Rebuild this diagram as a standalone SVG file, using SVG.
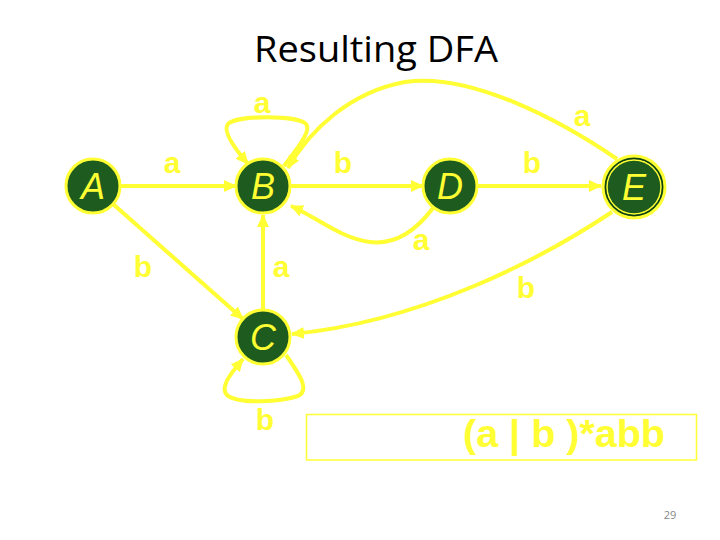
<svg xmlns="http://www.w3.org/2000/svg" width="720" height="540" viewBox="0 0 720 540">
<style>
.node{fill:#1E5B1E;stroke:#FFFF33;stroke-width:3}
.nl{font-family:"Liberation Sans",Arial,sans-serif;font-style:italic;font-size:36px;fill:#FFFF33;text-anchor:middle}
.edge{fill:none;stroke:#FFFF33;stroke-width:4;marker-end:url(#arr)}
.lbl{font-family:"Liberation Sans",Arial,sans-serif;font-weight:bold;font-size:30px;fill:#FFFF33;text-anchor:middle}
</style>
<defs>
<marker id="arr" markerUnits="userSpaceOnUse" markerWidth="14" markerHeight="12" refX="12" refY="6" orient="auto">
<path d="M0,0 L13,6 L0,12 Z" fill="#FFFF33"/>
</marker>
</defs>
<rect width="720" height="540" fill="#FFFFFF"/>
<text x="376" y="62" font-family="'Open Sans','Liberation Sans',sans-serif" font-size="36" fill="#000" text-anchor="middle" textLength="244" lengthAdjust="spacingAndGlyphs">Resulting DFA</text>
<g id="connectors">
<path class="edge" d="M121 186 L236 186"/>
<path class="edge" d="M291 186 L423 186"/>
<path class="edge" d="M478 186 L601 186"/>
<path class="edge" d="M113 204 L243 319"/>
<path class="edge" d="M263 310 L263 215"/>
<path class="edge" d="M284 166 C296 150 312 131 306 124 C298 115 236 115 228 124 C222 131 236 150 248 164"/>
<path class="edge" d="M617 159 C560 120 470 72 405 82 C350 92 310 130 288 168"/>
<path class="edge" d="M433 208 C415 232 395 245 370 242 C340 238 318 218 291 206"/>
<path class="edge" d="M612 212 C540 260 420 322 292 334"/>
<path class="edge" d="M286 355 C300 375 310 390 298 396 C280 402 240 404 228 396 C218 388 232 372 243 359"/>
<text class="lbl" x="262" y="113">a</text>
<text class="lbl" x="172" y="173">a</text>
<text class="lbl" x="343" y="173">b</text>
<text class="lbl" x="143" y="277">b</text>
<text class="lbl" x="281" y="277">a</text>
<text class="lbl" x="582" y="126">a</text>
<text class="lbl" x="532" y="173">b</text>
<text class="lbl" x="421" y="250">a</text>
<text class="lbl" x="526" y="298">b</text>
<text class="lbl" x="265" y="430">b</text>
</g>
<g id="A"><circle class="node" cx="93" cy="186" r="27"/><text class="nl" x="93" y="199">A</text></g>
<g id="B"><circle class="node" cx="263" cy="186" r="27"/><text class="nl" x="263" y="199">B</text></g>
<g id="C"><circle class="node" cx="263" cy="337" r="27"/><text class="nl" x="263" y="350">C</text></g>
<g id="D"><circle class="node" cx="450" cy="186" r="27"/><text class="nl" x="450" y="199">D</text></g>
<g id="E"><circle class="node" cx="634" cy="187" r="31"/><circle cx="634" cy="187" r="27" fill="none" stroke="#FFFF33" stroke-width="1.5"/><circle cx="634" cy="187" r="28.5" fill="none" stroke="#0E3A0E" stroke-width="1"/><text class="nl" x="634" y="200">E</text></g>
<g id="regex"><rect x="306.5" y="414.5" width="390" height="45.5" fill="none" stroke="#FFFF33" stroke-width="1.5"/><text x="463" y="447" font-family="'Liberation Sans',Arial,sans-serif" font-weight="bold" font-size="38" fill="#FFFF33" textLength="202" lengthAdjust="spacingAndGlyphs">(a | b )*abb</text></g>
<text x="670" y="519" font-family="'Open Sans','Liberation Sans',sans-serif" font-size="11" fill="#888" text-anchor="middle">29</text>
</svg>
